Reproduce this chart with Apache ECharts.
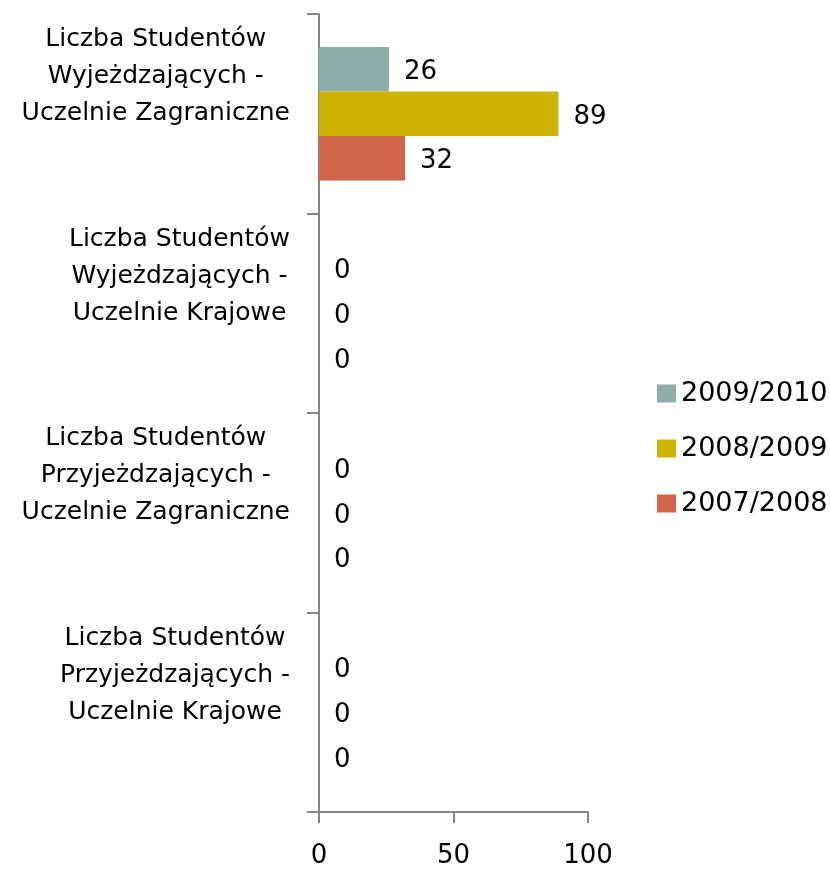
<!DOCTYPE html>
<html>
<head>
<meta charset="utf-8">
<script src="https://cdn.jsdelivr.net/npm/echarts@6/dist/echarts.min.js"></script>
<style>html,body{margin:0;padding:0;background:#fff}#c{width:830px;height:874px}</style>
</head>
<body>
<div id="c"></div>
<script>
const categories = [
  "Liczba Studentów\nWyjeżdzających -\nUczelnie Zagraniczne",
  "Liczba Studentów\nWyjeżdzających -\nUczelnie Krajowe",
  "Liczba Studentów\nPrzyjeżdzających -\nUczelnie Zagraniczne",
  "Liczba Studentów\nPrzyjeżdzających -\nUczelnie Krajowe"
];
const seriesNames = ["2009/2010", "2008/2009", "2007/2008"];
const values2009_2010 = [26, 0, 0, 0];
const values2008_2009 = [89, 0, 0, 0];
const values2007_2008 = [32, 0, 0, 0];
const xTicks = { min: 0, max: 100, interval: 50 };

const FONT = "'DejaVu Sans', sans-serif";
const colors = ["#8EADAD", "#CDB300", "#D2644B"];
const axisColor = "#868686";

const chart = echarts.init(document.getElementById('c'), null, { renderer: 'canvas' });
const allValues = [values2009_2010, values2008_2009, values2007_2008];

chart.setOption({
  animation: false,
  backgroundColor: '#ffffff',
  grid: { left: 319, top: 14, width: 269, height: 798, containLabel: false },
  legend: {
    orient: 'vertical',
    left: 652,
    top: 375,
    itemWidth: 19,
    itemHeight: 18,
    itemGap: 28,
    icon: 'rect',
    data: seriesNames,
    textStyle: { fontFamily: FONT, fontSize: 27, lineHeight: 26, color: '#000' }
  },
  xAxis: {
    type: 'value',
    min: xTicks.min,
    max: xTicks.max,
    interval: xTicks.interval,
    splitLine: { show: false },
    axisLine: { show: true, lineStyle: { color: axisColor, width: 2 } },
    axisTick: { show: true, length: 11, lineStyle: { color: axisColor, width: 2 } },
    axisLabel: { fontFamily: FONT, fontSize: 26, color: '#000', margin: 31 }
  },
  yAxis: {
    type: 'category',
    inverse: true,
    data: categories,
    axisLine: { show: true, lineStyle: { color: axisColor, width: 2 } },
    axisTick: { show: true, length: 12, lineStyle: { color: axisColor, width: 2 } },
    axisLabel: {
      margin: 29,
      align: 'right',
      padding: [0, 0, 74, 0],
      formatter: function (v) {
        return v.split('\n').map(function (l) { return '{c|' + l + '}'; }).join('\n');
      },
      rich: {
        c: { align: 'center', fontFamily: FONT, fontSize: 25, lineHeight: 37, color: '#000' }
      }
    }
  },
  series: seriesNames.map(function (name, i) {
    return {
      name: name,
      type: 'bar',
      data: allValues[i],
      barGap: '0%',
      barCategoryGap: '33%',
      itemStyle: { color: colors[i] },
      label: {
        show: true,
        position: 'right',
        distance: 15,
        offset: [0, 3],
        fontFamily: FONT,
        fontSize: 26,
        color: '#000'
      }
    };
  })
});
</script>
</body>
</html>
